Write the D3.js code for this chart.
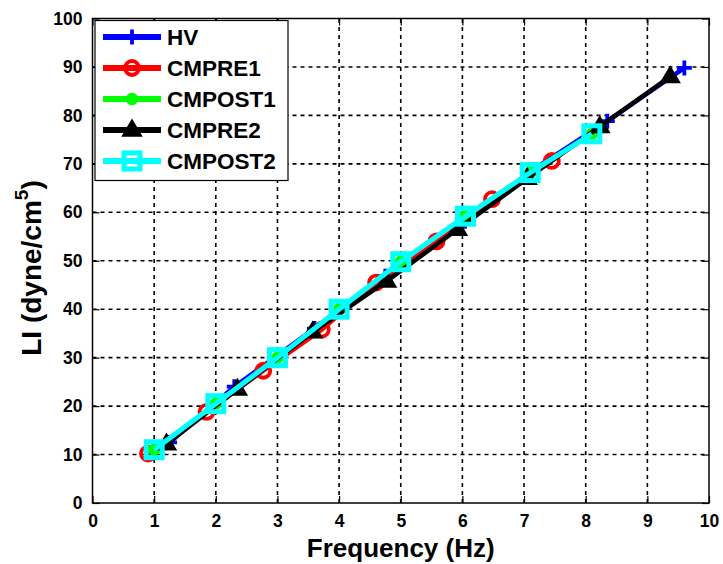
<!DOCTYPE html>
<html>
<head>
<meta charset="utf-8">
<script src="https://cdn.jsdelivr.net/npm/d3@7"></script>
<style>
  html, body { margin: 0; padding: 0; background: #fff; }
  svg { display: block; font-family: "Liberation Sans", Arial, sans-serif; }
</style>
</head>
<body>
<svg id="chart" width="723" height="564"></svg>
<script>
// Series: frequency (Hz) and LI (dyne/cm^5)
const seriesNames = ["HV", "CMPRE1", "CMPOST1", "CMPRE2", "CMPOST2"];
const seriesColors = ["#0000ff", "#ff0000", "#00ff00", "#000000", "#00ffff"];
const seriesMarkers = ["plus", "circle", "dot", "triangle", "square"];

const hvX = [1.25, 2.3, 3.6, 4.75, 5.95, 7.15, 8.35, 9.6];
const hvY = [12.5, 24.0, 36.0, 46.8, 57.0, 68.8, 78.8, 89.8];

const cmpre1X = [0.9, 1.85, 2.77, 3.72, 4.6, 5.58, 6.48, 7.45];
const cmpre1Y = [10.2, 18.8, 27.3, 35.8, 45.5, 54.0, 62.7, 70.6];

const cmpost1X = [1.0, 2.0, 3.0, 4.0, 5.0, 6.05, 7.1, 8.1];
const cmpost1Y = [11.0, 20.5, 30.0, 40.0, 49.8, 59.2, 68.2, 76.2];

const cmpre2X = [1.2, 2.35, 3.57, 4.77, 5.92, 7.05, 8.23, 9.37];
const cmpre2Y = [12.2, 23.5, 35.3, 45.8, 56.5, 67.0, 77.7, 88.0];

const cmpost2X = [1.0, 2.0, 3.0, 4.0, 5.0, 6.05, 7.1, 8.1];
const cmpost2Y = [11.0, 20.5, 30.0, 40.0, 49.8, 59.2, 68.2, 76.2];

const xTicks = [0, 1, 2, 3, 4, 5, 6, 7, 8, 9, 10];
const yTicks = [0, 10, 20, 30, 40, 50, 60, 70, 80, 90, 100];

const seriesX = [hvX, cmpre1X, cmpost1X, cmpre2X, cmpost2X];
const seriesY = [hvY, cmpre1Y, cmpost1Y, cmpre2Y, cmpost2Y];

const svg = d3.select("#chart");
const margin = { left: 92.5, right: 14, top: 18.5, bottom: 61 };
const W = 723, H = 564;
const x = d3.scaleLinear().domain([0, 10]).range([margin.left, W - margin.right]);
const y = d3.scaleLinear().domain([0, 100]).range([H - margin.bottom, margin.top]);

const x0 = x.range()[0], x1 = x.range()[1];
const y0 = y.range()[0], y1 = y.range()[1];

// dashed grid
const grid = svg.append("g");
grid.selectAll("line.gx").data(xTicks.slice(1, -1)).join("line")
  .attr("x1", d => x(d)).attr("x2", d => x(d))
  .attr("y1", y0).attr("y2", y1)
  .attr("stroke", "#000").attr("stroke-width", 1.6).attr("stroke-dasharray", "4,4");
grid.selectAll("line.gy").data(yTicks.slice(1, -1)).join("line")
  .attr("x1", x0).attr("x2", x1)
  .attr("y1", d => y(d)).attr("y2", d => y(d))
  .attr("stroke", "#000").attr("stroke-width", 1.6).attr("stroke-dasharray", "4,4");

// axes with inward ticks on all four sides
const tickFont = g => g.selectAll("text")
  .attr("font-size", 17.5).attr("font-weight", "bold").attr("fill", "#000")
  .attr("font-family", "Liberation Sans, Arial, sans-serif");

const gx = svg.append("g").attr("transform", `translate(0,${y0})`)
  .call(d3.axisBottom(x).tickValues(xTicks).tickSize(-7).tickPadding(12).tickFormat(d3.format("d")));
const gy = svg.append("g").attr("transform", `translate(${x0},0)`)
  .call(d3.axisLeft(y).tickValues(yTicks).tickSize(-7).tickPadding(10).tickFormat(d3.format("d")));
const gxt = svg.append("g").attr("transform", `translate(0,${y1})`)
  .call(d3.axisTop(x).tickValues(xTicks).tickSize(-7).tickFormat(""));
const gyr = svg.append("g").attr("transform", `translate(${x1},0)`)
  .call(d3.axisRight(y).tickValues(yTicks).tickSize(-7).tickFormat(""));
[gx, gy, gxt, gyr].forEach(g => {
  g.select(".domain").remove();
  g.selectAll(".tick line").attr("stroke", "#000").attr("stroke-width", 1.2);
  tickFont(g);
});
gx.selectAll("text").attr("dy", "0.71em");

svg.append("rect").attr("x", x0).attr("y", y1)
  .attr("width", x1 - x0).attr("height", y0 - y1)
  .attr("fill", "none").attr("stroke", "#000").attr("stroke-width", 1.5);

// marker drawing
function drawMarker(g, type, color, cx, cy, scale) {
  const s = scale || 1;
  if (type === "plus") {
    g.append("path")
      .attr("d", `M${cx - 7.5 * s},${cy}H${cx + 7.5 * s}M${cx},${cy - 7.5 * s}V${cy + 7.5 * s}`)
      .attr("stroke", color).attr("stroke-width", 3.8).attr("fill", "none");
  } else if (type === "circle") {
    g.append("circle").attr("cx", cx).attr("cy", cy).attr("r", 7 * s)
      .attr("fill", "none").attr("stroke", color).attr("stroke-width", 3.8);
  } else if (type === "dot") {
    g.append("circle").attr("cx", cx).attr("cy", cy).attr("r", 5.5 * s)
      .attr("fill", color).attr("stroke", color).attr("stroke-width", 1.5);
  } else if (type === "triangle") {
    const r = 9 * s;
    g.append("path")
      .attr("d", `M${cx},${cy - r}L${cx + r * 0.95},${cy + r * 0.6}L${cx - r * 0.95},${cy + r * 0.6}Z`)
      .attr("fill", color).attr("stroke", color).attr("stroke-width", 2.5);
  } else if (type === "square") {
    const h = 8 * s;
    g.append("rect").attr("x", cx - h).attr("y", cy - h)
      .attr("width", 2 * h).attr("height", 2 * h)
      .attr("fill", "none").attr("stroke", color).attr("stroke-width", 5);
  }
}

// series lines and markers
const line = d3.line().x(d => x(d[0])).y(d => y(d[1]));
const lineWidths = [4.5, 4.5, 4.5, 4.5, 5];
seriesNames.forEach((name, i) => {
  const pts = seriesX[i].map((v, k) => [v, seriesY[i][k]]);
  const g = svg.append("g").attr("class", "series");
  g.append("path").datum(pts).attr("d", line)
    .attr("fill", "none").attr("stroke", seriesColors[i])
    .attr("stroke-width", lineWidths[i]).attr("stroke-linejoin", "round");
  pts.forEach(p => drawMarker(g, seriesMarkers[i], seriesColors[i], x(p[0]), y(p[1])));
});

// legend
const lg = svg.append("g");
lg.append("rect").attr("x", 95).attr("y", 20.5).attr("width", 193).attr("height", 160)
  .attr("fill", "#fff").attr("stroke", "#000").attr("stroke-width", 1.2);
seriesNames.forEach((name, i) => {
  const cy = 37 + i * 31;
  lg.append("line").attr("x1", 103).attr("x2", 161).attr("y1", cy).attr("y2", cy)
    .attr("stroke", seriesColors[i]).attr("stroke-width", 6);
  drawMarker(lg, seriesMarkers[i], seriesColors[i], 132, cy);
  lg.append("text").attr("x", 167).attr("y", cy).attr("dy", "0.36em")
    .attr("font-size", 22.5).attr("font-weight", "bold").attr("fill", "#000")
    .text(name);
});

// axis titles
svg.append("text").attr("x", (x0 + x1) / 2).attr("y", 557)
  .attr("text-anchor", "middle").attr("font-size", 26).attr("font-weight", "bold")
  .text("Frequency (Hz)");
const yt = svg.append("text")
  .attr("transform", `translate(41,268) rotate(-90)`)
  .attr("text-anchor", "middle").attr("font-size", 28).attr("font-weight", "bold");
yt.append("tspan").text("LI (dyne/cm");
yt.append("tspan").attr("font-size", 19).attr("dy", -13).text("5");
yt.append("tspan").attr("dy", 13).text(")");
</script>
</body>
</html>
